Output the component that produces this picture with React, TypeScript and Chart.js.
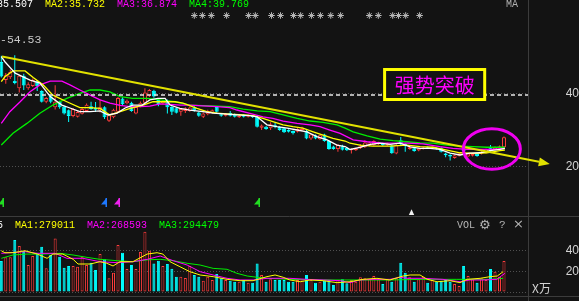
import { useEffect, useRef } from 'react';
import { Chart, registerables } from 'chart.js';

Chart.register(...registerables);

type P = [number, number];

// ---------------- data ----------------
const opens = [48.5, 43.6, 44.4, 43.4, 41.4, 44.8, 41.4, 42.0, 43.3, 40.6,
  37.7, 39.2, 36.2, 37.7, 36.4, 35.4, 33.8, 33.6, 34.4, 35.2,
  36.5, 36.0, 35.4, 36.2, 32.5, 33.5, 35.0, 38.6, 37.3, 37.4,
  34.5, 36.5, 37.4, 39.3, 40.7, 38.2, 37.3, 38.0, 36.3, 35.9,
  35.0, 35.2, 35.2, 36.1, 34.8, 33.6, 34.3, 34.6, 36.3, 34.3,
  33.9, 34.6, 34.3, 33.5, 34.1, 33.6, 33.9, 33.6, 30.6, 30.9,
  30.5, 31.3, 30.8, 30.5, 30.0, 29.7, 29.5, 30.0, 29.7, 27.7,
  28.6, 27.5, 28.8, 27.0, 25.5, 24.8, 25.6, 25.2, 24.5, 24.5,
  25.0, 25.3, 25.8, 25.9, 26.1, 26.3, 25.9, 25.8, 23.6, 27.2,
  26.2, 24.8, 25.0, 24.4, 24.9, 25.3, 25.0, 25.1, 25.0, 23.6,
  23.2, 22.4, 23.0, 25.0, 22.8, 23.0, 23.5, 23.5, 23.8, 25.3,
  24.7, 24.9, 25.3];
const closes = [44.6, 44.9, 45.8, 42.8, 44.8, 42.1, 42.5, 43.6, 41.9, 37.7,
  38.7, 37.7, 37.7, 36.2, 34.5, 33.8, 35.7, 34.9, 35.7, 36.9,
  35.7, 35.5, 36.2, 33.5, 34.0, 35.5, 38.7, 37.0, 38.0, 35.2,
  36.3, 37.4, 40.2, 40.9, 39.1, 37.1, 38.0, 36.2, 35.0, 34.7,
  35.7, 35.9, 36.1, 35.3, 33.9, 34.5, 35.2, 35.4, 35.0, 33.9,
  34.4, 33.9, 33.6, 33.9, 33.6, 34.0, 33.5, 30.9, 31.2, 30.3,
  31.6, 30.9, 30.0, 29.4, 29.5, 29.1, 30.3, 30.4, 27.7, 28.8,
  27.7, 28.6, 27.0, 24.8, 24.8, 25.9, 24.6, 24.5, 24.8, 25.0,
  25.7, 26.6, 26.6, 27.0, 26.6, 25.9, 26.3, 23.7, 25.9, 26.1,
  25.9, 25.3, 24.3, 25.0, 25.2, 25.0, 25.3, 24.9, 24.1, 23.1,
  22.8, 23.1, 23.6, 24.2, 23.6, 23.5, 22.9, 24.1, 24.7, 24.2,
  25.3, 25.6, 28.0];
const highs = [50.2, 45.5, 46.5, 50.4, 45.0, 45.3, 43.0, 44.0, 43.6, 40.8,
  39.0, 39.5, 42.2, 38.0, 36.6, 35.6, 36.0, 35.2, 36.0, 37.2,
  37.7, 37.6, 38.4, 36.5, 34.3, 35.8, 39.0, 38.9, 38.3, 37.7,
  36.5, 37.8, 41.4, 41.2, 41.0, 38.5, 38.2, 38.3, 36.5, 36.1,
  36.0, 36.2, 36.4, 36.5, 35.0, 34.8, 35.5, 35.6, 36.5, 34.6,
  34.6, 35.2, 34.5, 34.1, 34.3, 34.2, 34.1, 34.0, 31.5, 31.1,
  32.1, 32.0, 31.0, 30.7, 30.2, 29.9, 30.5, 30.9, 30.0, 29.0,
  28.8, 28.8, 29.0, 27.2, 25.7, 26.2, 26.0, 25.4, 25.0, 25.2,
  26.2, 27.2, 26.8, 27.2, 26.8, 26.5, 26.5, 26.0, 26.1, 28.1,
  26.4, 25.5, 25.2, 25.2, 25.4, 25.5, 25.5, 25.3, 25.3, 23.8,
  23.4, 23.3, 23.8, 25.2, 23.8, 23.7, 23.7, 24.3, 24.9, 25.9,
  25.5, 25.8, 28.2];
const lows = [44.3, 42.6, 43.9, 42.5, 40.2, 40.9, 41.0, 41.7, 40.6, 37.5,
  37.3, 37.3, 35.6, 35.8, 34.2, 32.2, 33.5, 33.4, 34.2, 35.0,
  35.5, 34.9, 34.8, 33.0, 32.2, 33.2, 34.8, 36.7, 37.0, 35.0,
  34.3, 36.2, 37.2, 39.0, 38.8, 36.5, 37.0, 34.5, 34.1, 34.5,
  33.9, 34.6, 35.0, 35.0, 33.6, 33.3, 34.0, 34.4, 34.8, 33.6,
  33.7, 33.7, 33.4, 33.3, 33.4, 33.4, 33.3, 30.7, 30.0, 30.1,
  30.0, 30.5, 29.8, 29.2, 29.3, 28.8, 29.3, 29.8, 27.5, 27.3,
  27.5, 27.3, 26.8, 24.6, 24.6, 24.1, 24.4, 24.3, 23.6, 24.3,
  24.8, 25.1, 25.6, 25.7, 25.9, 25.7, 25.7, 23.5, 23.4, 25.9,
  24.1, 24.6, 24.1, 24.2, 24.7, 24.8, 24.8, 24.7, 23.9, 22.6,
  21.7, 22.2, 22.8, 23.9, 22.6, 22.8, 22.7, 23.3, 23.6, 24.0,
  24.5, 24.7, 25.1];
// volume, 万 (x10k)
const volumes = [29.9, 33.4, 33.4, 50.1, 44.3, 39.8, 26.0, 34.7, 37.9, 43.7,
  22.8, 35.7, 51.7, 34.1, 23.5, 25.1, 25.1, 24.4, 34.1, 26.0,
  28.3, 21.2, 36.6, 31.5, 13.2, 18.6, 45.3, 37.9, 22.2, 26.0,
  22.2, 38.6, 58.1, 39.8, 27.6, 30.2, 25.1, 27.0, 22.5, 14.8,
  14.8, 13.5, 25.1, 16.4, 14.8, 10.9, 14.8, 11.6, 17.4, 13.2,
  11.6, 10.9, 9.9, 9.9, 11.6, 8.9, 8.9, 27.6, 16.4, 9.9,
  12.2, 11.6, 11.6, 11.6, 9.9, 9.9, 11.6, 12.2, 16.4, 11.6,
  9.0, 9.9, 10.9, 11.6, 6.7, 11.6, 12.2, 8.4, 11.6, 9.9,
  14.2, 13.2, 12.2, 15.4, 12.2, 7.7, 12.2, 9.9, 13.2, 28.3,
  18.6, 14.2, 9.9, 12.2, 14.8, 9.0, 11.6, 9.9, 10.9, 11.6,
  9.9, 7.7, 5.8, 25.1, 15.4, 12.2, 9.0, 13.2, 11.6, 22.2,
  19.6, 14.8, 29.9];

// price moving averages, [candle index, price]
const ma1: P[] = [[0, 50.0], [0.8, 48.6], [3.1, 45.5], [6.4, 43.6], [8.6, 42.8], [10.9, 39.1], [13.5, 36.8], [15.3, 36.0], [17.5, 35.0], [19.8, 35.0], [22.0, 35.2], [23.8, 34.1], [25.8, 34.6], [27.6, 36.0], [29.3, 36.8], [31.4, 36.8], [33.1, 38.2], [34.9, 38.6], [36.5, 38.6], [37.6, 36.8], [39.8, 35.9], [42.0, 35.4], [44.9, 35.0], [47.2, 34.6], [50.3, 34.3], [52.5, 34.1], [55.4, 33.9], [57.0, 33.6], [59.2, 31.4], [61.4, 30.9], [63.7, 30.5], [65.9, 30.0], [68.1, 29.5], [70.3, 28.2], [72.6, 27.3], [74.8, 25.9], [76.6, 25.5], [77.7, 24.7], [79.9, 25.3], [82.2, 26.1], [84.4, 26.4], [86.6, 26.1], [88.8, 26.4], [91.1, 25.4], [93.3, 25.0], [95.5, 25.0], [97.7, 24.7], [100, 23.7], [102.2, 23.2], [104.4, 23.7], [106.7, 23.8], [108.9, 24.4], [111.1, 24.7], [112.2, 25.0]];
const ma2: P[] = [[0, 43.2], [0.8, 44.5], [2.6, 46.1], [5.3, 46.1], [7.1, 44.3], [9.3, 42.3], [11.5, 39.5], [14.6, 37.7], [17.5, 36.1], [19.8, 36.1], [22.0, 35.9], [24.2, 34.1], [26.5, 35.0], [28.7, 35.9], [31.6, 36.8], [33.8, 37.7], [36.0, 37.7], [38.7, 37.7], [40.5, 37.3], [43.6, 35.9], [45.8, 35.0], [48.1, 34.6], [50.9, 34.3], [53.9, 34.1], [56.1, 33.9], [58.3, 33.2], [60.5, 32.3], [62.8, 31.4], [65.0, 30.9], [67.2, 30.5], [69.5, 29.5], [71.7, 28.6], [73.9, 27.7], [76.6, 27.0], [77.7, 26.4], [79.9, 25.9], [82.8, 25.6], [86.6, 25.6], [90.4, 25.9], [93.3, 25.45], [96.2, 25.3], [99.3, 24.55], [102.2, 23.8], [105.1, 23.65], [108.2, 23.8], [111.1, 24.4], [112.2, 24.55]];
const ma3: P[] = [[0, 31.8], [1.9, 35.0], [4.2, 37.7], [6.4, 40.4], [8.6, 42.3], [10.9, 43.3], [13.5, 43.3], [15.3, 42.3], [17.5, 40.9], [19.8, 39.5], [22.0, 38.2], [24.2, 37.3], [26.5, 36.7], [28.7, 36.35], [30.9, 36.35], [33.1, 36.5], [35.4, 37.1], [37.6, 37.0], [39.8, 36.8], [42.0, 36.8], [44.9, 36.6], [48.1, 36.35], [50.9, 36.1], [52.5, 35.45], [55.4, 34.55], [58.3, 33.6], [60.5, 33.2], [62.8, 32.45], [65.9, 31.8], [68.8, 31.4], [71.0, 30.9], [73.2, 30.0], [75.5, 29.1], [78.4, 27.3], [81.5, 26.8], [84.4, 26.5], [87.3, 26.4], [90.4, 26.4], [93.9, 26.2], [97.7, 25.45], [100.6, 25.0], [103.8, 24.7], [106.7, 24.7], [109.6, 24.7], [112.2, 25.0]];
const ma4: P[] = [[0, 25.9], [2.6, 29.1], [5.7, 31.8], [8.6, 34.55], [11.5, 36.8], [14.6, 38.6], [17.5, 40.0], [19.8, 40.9], [22.0, 40.9], [24.2, 40.4], [26.5, 39.1], [29.3, 38.6], [32.5, 38.6], [35.4, 38.2], [38.7, 37.7], [42.0, 36.8], [46.5, 36.6], [50.9, 36.35], [53.9, 35.7], [57.0, 35.2], [59.9, 35.0], [62.8, 34.1], [65.9, 33.2], [68.8, 32.45], [71.7, 32.1], [74.8, 31.4], [76.6, 30.5], [78.4, 29.5], [81.5, 28.4], [84.4, 27.5], [87.3, 27.1], [90.4, 26.8], [93.3, 26.5], [96.2, 26.4], [99.3, 25.9], [102.2, 25.6], [105.1, 25.45], [108.2, 25.3], [112.2, 25.3]];

// volume moving averages
const volMa1: P[] = [[0, 39.8], [0.8, 37.9], [2.6, 37.9], [5.3, 39.8], [8.0, 36.6], [10.2, 32.5], [11.5, 36.6], [13.7, 36.6], [16.0, 31.5], [17.1, 27.0], [19.8, 27.0], [22.0, 29.2], [23.5, 27.7], [24.9, 25.1], [26.4, 29.2], [29.3, 29.2], [32.5, 36.6], [34.7, 37.9], [36.0, 36.6], [37.6, 29.2], [39.8, 24.4], [42.0, 19.6], [44.3, 16.4], [47.2, 14.8], [50.3, 12.2], [53.2, 10.9], [56.1, 10.9], [59.2, 14.8], [61.0, 16.4], [62.8, 14.2], [64.3, 11.6], [66.6, 9.9], [68.8, 11.6], [71.7, 10.9], [74.8, 9.0], [77.7, 9.9], [80.6, 12.2], [83.7, 13.2], [86.6, 11.6], [89.5, 15.4], [91.1, 16.4], [93.3, 16.4], [94.9, 12.2], [97.1, 9.9], [100, 10.9], [102.2, 9.0], [103.8, 12.2], [106.7, 13.2], [108.9, 14.8], [110.5, 15.4], [111.8, 19.6]];
const volMa2: P[] = [[0, 37.3], [1.9, 37.9], [5.3, 38.9], [8.0, 37.3], [12.0, 37.3], [14.6, 32.5], [18.2, 32.5], [22.0, 29.2], [25.8, 28.3], [29.3, 29.2], [32.5, 31.5], [35.4, 34.7], [38.3, 30.2], [41.4, 26.0], [44.3, 19.6], [47.2, 16.4], [50.3, 13.2], [53.2, 11.6], [56.1, 11.6], [59.2, 13.2], [64.3, 13.2], [68.1, 12.2], [71.7, 11.6], [75.5, 10.9], [77.7, 9.0], [79.9, 11.6], [82.8, 12.2], [86.6, 12.2], [88.8, 14.2], [90.4, 13.2], [93.9, 13.2], [98.4, 12.2], [102.2, 9.9], [104.4, 11.6], [107.3, 11.6], [110.4, 12.2], [112.2, 18.0]];
const volMa3: P[] = [[0, 32.5], [2.6, 35.7], [5.7, 36.6], [9.3, 36.6], [13.1, 37.3], [16.0, 35.7], [19.1, 33.4], [22.0, 31.5], [25.8, 30.2], [29.3, 29.2], [32.5, 31.0], [35.4, 31.5], [38.3, 30.2], [41.4, 27.7], [44.3, 26.0], [47.2, 22.8], [50.3, 21.9], [52.5, 18.0], [54.8, 15.4], [57.0, 14.2], [59.2, 13.2], [64.3, 12.2], [71.7, 11.6], [79.3, 11.6], [86.6, 11.6], [93.9, 12.2], [101.5, 12.2], [108.9, 12.2], [111.8, 13.2]];

const trendLine: P[] = [[0.16, 50.05], [119.8, 21.33]];
const levelLine = 39.54;
const priceTicks = [20, 40];
const volTicks = [0, 20, 40];
const maxPrice = 54.53;
const headerItems = [
  { text: 'MA1:35.507', color: '#ffffff' },
  { text: 'MA2:35.732', color: '#ffff00' },
  { text: 'MA3:36.874', color: '#ff00ff' },
  { text: 'MA4:39.769', color: '#00ff00' },
];
const volHeaderItems = [
  { text: 'VOL:301685', color: '#ffffff' },
  { text: 'MA1:279011', color: '#ffff00' },
  { text: 'MA2:268593', color: '#ff00ff' },
  { text: 'MA3:294479', color: '#00ff00' },
];
const nextPanelItems = [
  { text: 'DIF:-0.72', color: '#ffff00' },
  { text: 'DEA:-0.65', color: '#ff00ff' },
];
const starIdx = [43.0, 44.8, 46.8, 50.2, 55.1, 56.6, 60.2, 62.2, 65.1, 66.7, 69.1, 71.1, 73.4, 75.6, 82.0, 84.0, 87.2, 88.5, 90.1, 93.2];
const flags = [
  { i: 0.15, color: '#22dd22' },
  { i: 23.0, color: '#1e78ff' },
  { i: 26.0, color: '#ee22ee' },
  { i: 57.1, color: '#22dd22' },
];
const whiteMarkIdx = 91.4;
const boxText = '强势突破';
const box = { i0: 85.4, i1: 107.7, top: 46.48, bottom: 38.31 };
const ring = { i: 109.3, p: 24.82, ri: 6.35, rp: 5.53 };

// ---------------- styles ----------------
const W = 579;
const MAIN_H = 217;
const VOL_H = 84;
const AXIS_W = 51;
const BG = '#131313';
const UP = '#ff3c3c';
const DOWN = '#00ffff';
const GRID = '#505050';
const SEP = '#3c3c3c';
const TREND = '#e2e200';
const X_MIN = -0.29;
const X_MAX = 117.35;
const MONO = '"Liberation Mono", "DejaVu Sans Mono", monospace';

const isUp = (i: number) => closes[i] >= opens[i];
const toXY = (pts: P[]) => pts.map(([x, y]) => ({ x, y }));
const lineDs = (pts: P[], color: string, width: number, order: number) => ({
  type: 'line',
  data: toXY(pts),
  borderColor: color,
  borderWidth: width,
  pointRadius: 0,
  fill: false,
  tension: 0,
  order,
});

const yAxis = (min: number, max: number, ticks: number[], labelFor: (v: number) => string) => ({
  position: 'right',
  min,
  max,
  afterBuildTicks: (ax: any) => { ax.ticks = ticks.map((v) => ({ value: v })); },
  afterFit: (ax: any) => { ax.width = AXIS_W; ax.paddingTop = 0; ax.paddingBottom = 0; },
  grid: { color: GRID, lineWidth: 1, drawTicks: false },
  border: { display: false, dash: [1, 2] },
  ticks: {
    color: '#d4d4d4',
    font: { family: 'Liberation Sans', size: 12 },
    padding: 33,
    crossAlign: 'far',
    callback: (v: any) => labelFor(Number(v)),
  },
});

const drawSeparators = (ctx: any, chart: any, hLineY: number) => {
  const x = Math.round(chart.chartArea.right) + 0.5;
  ctx.strokeStyle = SEP;
  ctx.lineWidth = 1;
  ctx.beginPath();
  ctx.moveTo(x, 0);
  ctx.lineTo(x, chart.height);
  ctx.moveTo(0, hLineY);
  ctx.lineTo(W, hLineY);
  ctx.stroke();
};

const mainDecor = {
  id: 'mainDecor',
  beforeDatasetsDraw(chart: any) {
    const { ctx } = chart;
    ctx.save();
    drawSeparators(ctx, chart, MAIN_H - 0.5);
    ctx.restore();
  },
  afterDatasetsDraw(chart: any) {
    const { ctx } = chart;
    const xs = chart.scales.x;
    const ys = chart.scales.y;
    const px = (v: number) => xs.getPixelForValue(v);
    const py = (v: number) => ys.getPixelForValue(v);
    ctx.save();

    // arrow head of the trend line
    const a = trendLine[trendLine.length - 2];
    const b = trendLine[trendLine.length - 1];
    const ax = px(a[0]), ay = py(a[1]), bx = px(b[0]), by = py(b[1]);
    const len = Math.hypot(bx - ax, by - ay);
    const ux = (bx - ax) / len, uy = (by - ay) / len;
    ctx.fillStyle = TREND;
    ctx.beginPath();
    ctx.moveTo(bx + ux * 11, by + uy * 11);
    ctx.lineTo(bx - uy * 4.5, by + ux * 4.5);
    ctx.lineTo(bx + uy * 4.5, by - ux * 4.5);
    ctx.closePath();
    ctx.fill();

    // label box
    const x0 = px(box.i0), x1 = px(box.i1), y0 = py(box.top), y1 = py(box.bottom);
    ctx.fillStyle = BG;
    ctx.fillRect(x0, y0, x1 - x0, y1 - y0);
    ctx.strokeStyle = '#ffff00';
    ctx.lineWidth = 3;
    ctx.strokeRect(x0, y0, x1 - x0, y1 - y0);
    ctx.fillStyle = '#ff00ff';
    ctx.font = '20px "Noto Sans CJK SC"';
    ctx.textAlign = 'center';
    ctx.textBaseline = 'middle';
    ctx.fillText(boxText, (x0 + x1) / 2, (y0 + y1) / 2 + 1);

    // ring
    const cx = px(ring.i), cy = py(ring.p);
    const rx = px(ring.i + ring.ri) - cx, ry = cy - py(ring.p + ring.rp);
    ctx.strokeStyle = '#f000f0';
    ctx.lineWidth = 3;
    ctx.beginPath();
    ctx.ellipse(cx, cy, rx, ry, 0, 0, Math.PI * 2);
    ctx.stroke();

    // signal flags
    flags.forEach((f) => {
      const fx = Math.round(px(f.i)) + 0.5;
      ctx.fillStyle = f.color;
      ctx.fillRect(fx, 198, 1.5, 9);
      ctx.beginPath();
      ctx.moveTo(fx + 1, 198);
      ctx.lineTo(fx - 4.5, 204.5);
      ctx.lineTo(fx + 1, 204.5);
      ctx.closePath();
      ctx.fill();
    });
    const wx = px(whiteMarkIdx);
    ctx.fillStyle = '#f0f0f0';
    ctx.beginPath();
    ctx.moveTo(wx, 209.3);
    ctx.lineTo(wx - 2.7, 215);
    ctx.lineTo(wx + 2.7, 215);
    ctx.closePath();
    ctx.fill();

    // star markers row
    ctx.strokeStyle = '#b8b8b8';
    ctx.lineWidth = 1;
    starIdx.forEach((s) => {
      const sx = px(s), sy = 15.5, r = 3.3;
      ctx.beginPath();
      for (let k = 0; k < 4; k++) {
        const ang = (k * Math.PI) / 4;
        ctx.moveTo(sx - Math.cos(ang) * r, sy - Math.sin(ang) * r);
        ctx.lineTo(sx + Math.cos(ang) * r, sy + Math.sin(ang) * r);
      }
      ctx.stroke();
    });

    // header texts
    ctx.font = '10px ' + MONO;
    ctx.textAlign = 'left';
    ctx.textBaseline = 'alphabetic';
    headerItems.forEach((h, k) => {
      ctx.fillStyle = h.color;
      ctx.fillText(h.text, -27 + 72 * k, 7);
    });
    ctx.fillStyle = '#b0b0b0';
    ctx.fillText('MA', 506, 7);

    // max price label
    ctx.font = '11.5px ' + MONO;
    ctx.fillStyle = '#c8c8c8';
    ctx.textBaseline = 'middle';
    ctx.fillText('-' + maxPrice.toFixed(2), 0, py(maxPrice));

    ctx.restore();
  },
};

const volDecor = {
  id: 'volDecor',
  beforeDatasetsDraw(chart: any) {
    const { ctx } = chart;
    ctx.save();
    drawSeparators(ctx, chart, 79.5);
    ctx.restore();
  },
  afterDatasetsDraw(chart: any) {
    const { ctx } = chart;
    ctx.save();
    ctx.font = '10px ' + MONO;
    ctx.textAlign = 'left';
    ctx.textBaseline = 'alphabetic';
    volHeaderItems.forEach((h, k) => {
      ctx.fillStyle = h.color;
      ctx.fillText(h.text, -57 + 72 * k, 10.5);
    });
    ctx.fillStyle = '#b4b4b4';
    ctx.fillText('VOL', 457, 10.5);
    ctx.font = '13px "DejaVu Sans"';
    ctx.fillText('\u2699', 479, 11.5);
    ctx.font = '11px ' + MONO;
    ctx.fillText('?', 499, 11);
    ctx.font = '13px "DejaVu Sans"';
    ctx.fillText('\u00d7', 513, 11);

    ctx.fillStyle = '#d4d4d4';
    ctx.font = '12px "Noto Sans CJK SC"';
    ctx.textBaseline = 'middle';
    ctx.fillText('X万', 532, 71.7);

    // top of the next panel's header, cut by the bottom edge
    ctx.font = '10px ' + MONO;
    ctx.textBaseline = 'alphabetic';
    nextPanelItems.forEach((h, k) => {
      ctx.fillStyle = h.color;
      ctx.fillText(h.text, 15 + 61 * k, 90.5);
    });
    ctx.fillStyle = '#a0a0a0';
    ctx.fillText('MACD', 457, 90.5);
    ctx.restore();
  },
};

export default function App() {
  const mainRef = useRef<HTMLCanvasElement | null>(null);
  const volRef = useRef<HTMLCanvasElement | null>(null);

  useEffect(() => {
    document.body.style.margin = '0';
    document.body.style.background = BG;
    const idx = opens.map((_, i) => i);

    const main = new Chart(mainRef.current as HTMLCanvasElement, {
      type: 'bar',
      data: {
        datasets: [
          {
            type: 'bar',
            data: idx.map((i) => ({ x: i, y: [lows[i], highs[i]] })),
            backgroundColor: idx.map((i) => (isUp(i) ? UP : DOWN)),
            borderWidth: 0,
            barThickness: 1,
            grouped: false,
            inflateAmount: 0,
            order: 10,
          },
          {
            type: 'bar',
            data: idx.map((i) => ({ x: i, y: [opens[i], closes[i]] })),
            backgroundColor: idx.map((i) => (isUp(i) ? BG : DOWN)),
            borderColor: idx.map((i) => (isUp(i) ? UP : DOWN)),
            borderWidth: 1,
            borderSkipped: false,
            barThickness: 4,
            grouped: false,
            inflateAmount: 0,
            order: 9,
          },
          lineDs(ma4, '#00ee00', 1.3, 5),
          lineDs(ma3, '#ff00ff', 1.3, 4),
          lineDs(ma2, '#ffff00', 1.3, 3),
          lineDs(ma1, '#ffffff', 1.3, 2),
          {
            type: 'line',
            data: [{ x: X_MIN, y: levelLine }, { x: X_MAX, y: levelLine }],
            borderColor: '#e8e8e8',
            borderWidth: 1.6,
            borderDash: [4, 3],
            pointRadius: 0,
            order: 1,
          },
          {
            type: 'line',
            data: toXY(trendLine),
            borderColor: TREND,
            borderWidth: 2,
            pointRadius: 0,
            clip: false,
            order: 0,
          },
        ] as any,
      },
      options: {
        animation: false,
        responsive: false,
        devicePixelRatio: 1,
        events: [],
        layout: { padding: 0 },
        plugins: { legend: { display: false }, tooltip: { enabled: false } },
        scales: {
          x: { type: 'linear', min: X_MIN, max: X_MAX, offset: false, display: false },
          y: yAxis(6.3, 65.42, priceTicks, (v) => String(v)) as any,
        },
      },
      plugins: [mainDecor],
    });

    const vol = new Chart(volRef.current as HTMLCanvasElement, {
      type: 'bar',
      data: {
        datasets: [
          {
            type: 'bar',
            data: idx.map((i) => ({ x: i, y: volumes[i] })),
            backgroundColor: idx.map((i) => (isUp(i) ? BG : DOWN)),
            borderColor: idx.map((i) => (isUp(i) ? UP : DOWN)),
            borderWidth: 1,
            borderSkipped: false,
            barThickness: 3,
            grouped: false,
            inflateAmount: 0,
            order: 5,
          },
          lineDs(volMa3, '#00ee00', 1, 3),
          lineDs(volMa2, '#ff00ff', 1, 2),
          lineDs(volMa1, '#ffff00', 1, 1),
        ] as any,
      },
      options: {
        animation: false,
        responsive: false,
        devicePixelRatio: 1,
        events: [],
        layout: { padding: { top: 13, bottom: 9, left: 0, right: 0 } },
        plugins: { legend: { display: false }, tooltip: { enabled: false } },
        scales: {
          x: { type: 'linear', min: X_MIN, max: X_MAX, offset: false, display: false },
          y: yAxis(0, 59.8, volTicks, (v) => (v === 0 ? '' : String(v))) as any,
        },
      },
      plugins: [volDecor],
    });

    return () => {
      main.destroy();
      vol.destroy();
    };
  }, []);

  return (
    <div style={{ position: 'fixed', left: 0, top: 0, width: W, height: MAIN_H + VOL_H, background: BG, overflow: 'hidden' }}>
      <canvas ref={mainRef} width={W} height={MAIN_H} style={{ position: 'absolute', left: 0, top: 0, width: W, height: MAIN_H }} />
      <canvas ref={volRef} width={W} height={VOL_H} style={{ position: 'absolute', left: 0, top: MAIN_H, width: W, height: VOL_H }} />
    </div>
  );
}
